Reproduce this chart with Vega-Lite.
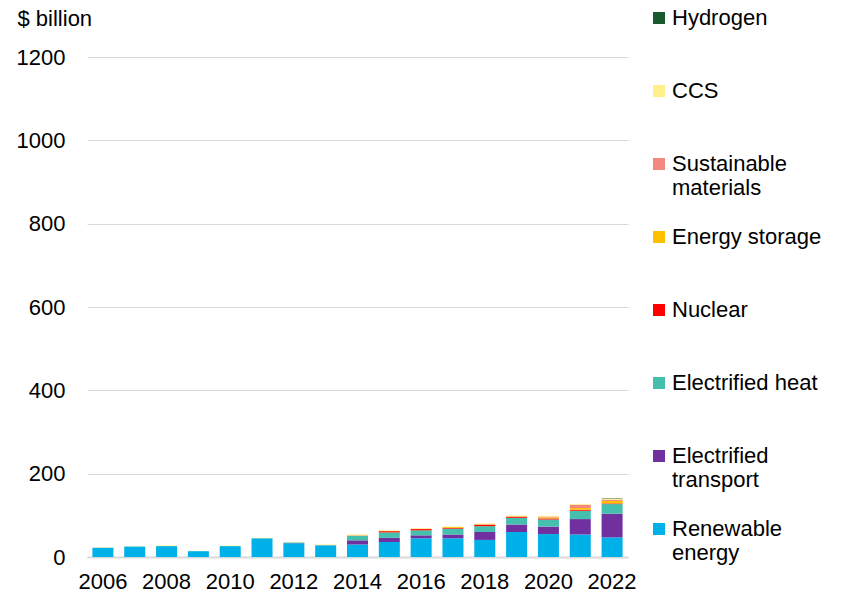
{
  "$schema": "https://vega.github.io/schema/vega-lite/v6.json",
  "width": 541,
  "height": 500,
  "autosize": {"type": "none"},
  "padding": {"left": 87, "top": 57, "right": 225, "bottom": 40},
  "background": "white",
  "config": {
    "font": "Liberation Sans",
    "view": {"stroke": null}
  },
  "datasets": {
    "inv": [
      {"year": 2006, "type": "Renewable energy", "k": 1, "value": 22},
      {"year": 2006, "type": "Electrified heat", "k": 3, "value": 0.5},
      {"year": 2006, "type": "CCS", "k": 7, "value": 1},
      {"year": 2007, "type": "Renewable energy", "k": 1, "value": 25},
      {"year": 2007, "type": "Electrified heat", "k": 3, "value": 0.5},
      {"year": 2007, "type": "CCS", "k": 7, "value": 0.5},
      {"year": 2008, "type": "Renewable energy", "k": 1, "value": 26},
      {"year": 2008, "type": "Electrified heat", "k": 3, "value": 0.5},
      {"year": 2008, "type": "CCS", "k": 7, "value": 1.5},
      {"year": 2009, "type": "Renewable energy", "k": 1, "value": 14},
      {"year": 2009, "type": "Electrified heat", "k": 3, "value": 0.3},
      {"year": 2009, "type": "CCS", "k": 7, "value": 0.5},
      {"year": 2010, "type": "Renewable energy", "k": 1, "value": 26},
      {"year": 2010, "type": "Electrified heat", "k": 3, "value": 0.5},
      {"year": 2010, "type": "CCS", "k": 7, "value": 1},
      {"year": 2011, "type": "Renewable energy", "k": 1, "value": 44},
      {"year": 2011, "type": "Electrified heat", "k": 3, "value": 1.5},
      {"year": 2011, "type": "CCS", "k": 7, "value": 0.5},
      {"year": 2012, "type": "Renewable energy", "k": 1, "value": 33},
      {"year": 2012, "type": "Electrified transport", "k": 2, "value": 0.5},
      {"year": 2012, "type": "Electrified heat", "k": 3, "value": 1.5},
      {"year": 2012, "type": "CCS", "k": 7, "value": 0.5},
      {"year": 2013, "type": "Renewable energy", "k": 1, "value": 27},
      {"year": 2013, "type": "Electrified transport", "k": 2, "value": 0.5},
      {"year": 2013, "type": "Electrified heat", "k": 3, "value": 1.5},
      {"year": 2013, "type": "CCS", "k": 7, "value": 1},
      {"year": 2014, "type": "Renewable energy", "k": 1, "value": 30},
      {"year": 2014, "type": "Electrified transport", "k": 2, "value": 10},
      {"year": 2014, "type": "Electrified heat", "k": 3, "value": 11},
      {"year": 2014, "type": "Nuclear", "k": 4, "value": 0.5},
      {"year": 2014, "type": "Energy storage", "k": 5, "value": 0.5},
      {"year": 2014, "type": "CCS", "k": 7, "value": 2},
      {"year": 2015, "type": "Renewable energy", "k": 1, "value": 36},
      {"year": 2015, "type": "Electrified transport", "k": 2, "value": 10},
      {"year": 2015, "type": "Electrified heat", "k": 3, "value": 13},
      {"year": 2015, "type": "Nuclear", "k": 4, "value": 3},
      {"year": 2015, "type": "Energy storage", "k": 5, "value": 1},
      {"year": 2015, "type": "CCS", "k": 7, "value": 0.5},
      {"year": 2016, "type": "Renewable energy", "k": 1, "value": 45},
      {"year": 2016, "type": "Electrified transport", "k": 2, "value": 7},
      {"year": 2016, "type": "Electrified heat", "k": 3, "value": 12},
      {"year": 2016, "type": "Nuclear", "k": 4, "value": 3},
      {"year": 2016, "type": "Energy storage", "k": 5, "value": 1},
      {"year": 2016, "type": "CCS", "k": 7, "value": 0.5},
      {"year": 2017, "type": "Renewable energy", "k": 1, "value": 45},
      {"year": 2017, "type": "Electrified transport", "k": 2, "value": 9},
      {"year": 2017, "type": "Electrified heat", "k": 3, "value": 14},
      {"year": 2017, "type": "Nuclear", "k": 4, "value": 2},
      {"year": 2017, "type": "Energy storage", "k": 5, "value": 2},
      {"year": 2017, "type": "CCS", "k": 7, "value": 1},
      {"year": 2018, "type": "Renewable energy", "k": 1, "value": 41},
      {"year": 2018, "type": "Electrified transport", "k": 2, "value": 19},
      {"year": 2018, "type": "Electrified heat", "k": 3, "value": 14},
      {"year": 2018, "type": "Nuclear", "k": 4, "value": 3},
      {"year": 2018, "type": "Energy storage", "k": 5, "value": 1},
      {"year": 2018, "type": "Sustainable materials", "k": 6, "value": 1},
      {"year": 2018, "type": "CCS", "k": 7, "value": 1.5},
      {"year": 2019, "type": "Renewable energy", "k": 1, "value": 60},
      {"year": 2019, "type": "Electrified transport", "k": 2, "value": 18},
      {"year": 2019, "type": "Electrified heat", "k": 3, "value": 16},
      {"year": 2019, "type": "Nuclear", "k": 4, "value": 2.5},
      {"year": 2019, "type": "Energy storage", "k": 5, "value": 1},
      {"year": 2019, "type": "Sustainable materials", "k": 6, "value": 0.5},
      {"year": 2019, "type": "CCS", "k": 7, "value": 1.5},
      {"year": 2020, "type": "Renewable energy", "k": 1, "value": 55},
      {"year": 2020, "type": "Electrified transport", "k": 2, "value": 18},
      {"year": 2020, "type": "Electrified heat", "k": 3, "value": 17},
      {"year": 2020, "type": "Nuclear", "k": 4, "value": 2.5},
      {"year": 2020, "type": "Energy storage", "k": 5, "value": 2.5},
      {"year": 2020, "type": "Sustainable materials", "k": 6, "value": 2},
      {"year": 2020, "type": "CCS", "k": 7, "value": 2},
      {"year": 2021, "type": "Renewable energy", "k": 1, "value": 54},
      {"year": 2021, "type": "Electrified transport", "k": 2, "value": 37},
      {"year": 2021, "type": "Electrified heat", "k": 3, "value": 20},
      {"year": 2021, "type": "Nuclear", "k": 4, "value": 2.5},
      {"year": 2021, "type": "Energy storage", "k": 5, "value": 4},
      {"year": 2021, "type": "Sustainable materials", "k": 6, "value": 8},
      {"year": 2021, "type": "CCS", "k": 7, "value": 2},
      {"year": 2022, "type": "Renewable energy", "k": 1, "value": 47},
      {"year": 2022, "type": "Electrified transport", "k": 2, "value": 57},
      {"year": 2022, "type": "Electrified heat", "k": 3, "value": 23},
      {"year": 2022, "type": "Nuclear", "k": 4, "value": 1.5},
      {"year": 2022, "type": "Energy storage", "k": 5, "value": 6},
      {"year": 2022, "type": "Sustainable materials", "k": 6, "value": 3},
      {"year": 2022, "type": "CCS", "k": 7, "value": 3},
      {"year": 2022, "type": "Hydrogen", "k": 8, "value": 1}
    ]
  },
  "data": {"name": "inv"},
  "mark": {"type": "bar"},
  "encoding": {
    "x": {
      "field": "year",
      "type": "ordinal",
      "scale": {"paddingInner": 0.34, "paddingOuter": 0.17},
      "axis": {
        "title": null,
        "values": [2006, 2008, 2010, 2012, 2014, 2016, 2018, 2020, 2022],
        "labelAngle": 0,
        "labelFontSize": 22,
        "labelColor": "#000000",
        "labelPadding": 14,
        "ticks": false,
        "domainColor": "#d9d9d9",
        "domainWidth": 2,
        "grid": false
      }
    },
    "y": {
      "field": "value",
      "type": "quantitative",
      "aggregate": "sum",
      "stack": "zero",
      "scale": {"domain": [0, 1200]},
      "axis": {
        "title": "$ billion",
        "titleAngle": 0,
        "titleAlign": "left",
        "titleBaseline": "middle",
        "titleX": -70,
        "titleY": -39,
        "titleFontSize": 22,
        "titleFontWeight": "normal",
        "titleColor": "#000000",
        "values": [0, 200, 400, 600, 800, 1000, 1200],
        "format": "d",
        "labelFontSize": 22,
        "labelColor": "#000000",
        "labelPadding": 22,
        "ticks": false,
        "domain": false,
        "grid": true,
        "gridColor": "#d9d9d9",
        "gridWidth": 1
      }
    },
    "color": {
      "field": "type",
      "type": "nominal",
      "scale": {
        "domain": ["Hydrogen", "CCS", "Sustainable materials", "Energy storage", "Nuclear", "Electrified heat", "Electrified transport", "Renewable energy"],
        "range": ["#175a2e", "#fff08c", "#f4877f", "#ffc000", "#ff0000", "#45bfae", "#7030a0", "#00b0e8"]
      },
      "legend": {
        "title": null,
        "orient": "none",
        "legendX": 561,
        "legendY": -50,
        "symbolType": "square",
        "symbolSize": 144,
        "symbolStrokeWidth": 0,
        "labelFontSize": 22,
        "labelColor": "#000000",
        "labelOffset": 2,
        "labelLimit": 300,
        "labelLineHeight": 26,
        "labelBaseline": "middle",
        "rowPadding": 27,
        "labelExpr": "datum.label == 'Sustainable materials' ? ['Sustainable', 'materials'] : datum.label == 'Electrified transport' ? ['Electrified', 'transport'] : datum.label == 'Renewable energy' ? ['Renewable', 'energy'] : [datum.label, ' ']"
      }
    },
    "order": {"field": "k", "type": "quantitative", "sort": "ascending"}
  }
}
